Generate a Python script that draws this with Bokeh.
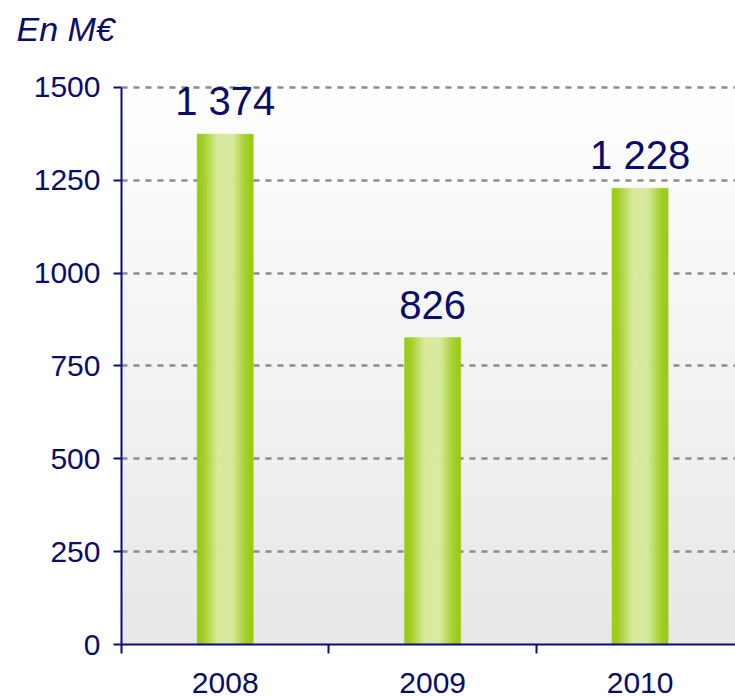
import numpy as np
from bokeh.plotting import figure
from bokeh.models import Range1d, FixedTicker, LabelSet, ColumnDataSource, Title
from bokeh.core.properties import value
from bokeh.embed import file_html
from bokeh.resources import INLINE

# ---- data ----
years = ["2008", "2009", "2010"]
amounts = [1374, 826, 1228]
y_ticks = [0, 250, 500, 750, 1000, 1250, 1500]
unit_title = "En M€"

NAVY = "#0a0a84"
TEXT = "#0b0b6e"
FONT = "Liberation Sans"

n = len(years)
centers = [i + 0.5 for i in range(n)]
bar_labels = [f"{v:,}".replace(",", " ") for v in amounts]

x_end = 2.96
y_end = 1505
p = figure(width=735, height=697, output_backend="svg", toolbar_location=None,
           x_range=Range1d(0, x_end), y_range=Range1d(0, y_end),
           min_border_left=121, min_border_right=0, min_border_top=85,
           min_border_bottom=53)
p.outline_line_color = None
p.background_fill_color = "white"
p.border_fill_color = "white"

# title stack: spacer next to the plot, title above it
spacer = Title(text=" ", text_font_size="10px", standoff=24, text_color="white")
p.add_layout(spacer, "above")
main_title = Title(text=unit_title, text_font=FONT, text_font_size="34px",
                   text_font_style="italic", text_color=TEXT, align="left",
                   offset=-105, standoff=2)
p.add_layout(main_title, "above")

# background vertical gradient (decoration)
rows = 128
g = np.linspace(232, 255, rows).astype(np.uint8)
img = np.zeros((rows, 1), dtype=np.uint32)
view = img.view(dtype=np.uint8).reshape((rows, 1, 4))
view[:, 0, 0] = g
view[:, 0, 1] = g
view[:, 0, 2] = g
view[:, 0, 3] = 255
p.image_rgba(image=[img], x=0, y=0, dw=x_end, dh=y_ticks[-1], level="image")

# grid
p.xgrid.grid_line_color = None
p.ygrid.ticker = FixedTicker(ticks=y_ticks)
p.ygrid.grid_line_color = "#8c8c8c"
p.ygrid.grid_line_dash = "6 6"
p.ygrid.grid_line_width = 2.5

# bars with horizontal gradient strips
bar_w = 0.27
N = 32
edge = np.array([152, 203, 18])
light = np.array([217, 234, 158])
for j in range(N):
    t = (j + 0.5) / N
    s = min(1.0, 1.15 * np.sin(np.pi * t) ** 2)
    c = edge + (light - edge) * s
    col = "#%02x%02x%02x" % tuple(int(round(v)) for v in c)
    off = -bar_w / 2 + bar_w * (j + 0.5) / N
    p.vbar(x=[cx + off for cx in centers], top=amounts, bottom=0,
           width=bar_w / N, fill_color=col, line_color=col, line_width=0.6)

# value labels
src = ColumnDataSource(dict(x=centers, y=amounts, t=bar_labels))
p.add_layout(LabelSet(x="x", y="y", text="t", source=src,
                      text_align="center", text_baseline="alphabetic",
                      y_offset=19, text_font=value(FONT),
                      text_font_size=value("40px"),
                      text_color=value(TEXT)))

# axes
xa = p.xaxis[0]
xa.ticker = FixedTicker(ticks=centers, minor_ticks=list(range(n + 1)))
xa.major_label_overrides = {c: y for c, y in zip(centers, years)}
xa.major_tick_line_color = None
xa.major_tick_out = 0
xa.major_tick_in = 0
xa.minor_tick_out = 9
xa.minor_tick_in = 0
xa.minor_tick_line_color = NAVY
xa.minor_tick_line_width = 2
xa.major_label_standoff = 19

ya = p.yaxis[0]
ya.ticker = FixedTicker(ticks=y_ticks)
ya.minor_tick_line_color = None
ya.major_tick_out = 8
ya.major_tick_in = 0
ya.major_tick_line_color = NAVY
ya.major_tick_line_width = 2
ya.major_label_standoff = 13
ya.bounds = (0, y_ticks[-1])

for ax in (xa, ya):
    ax.axis_line_color = NAVY
    ax.axis_line_width = 2
    ax.major_label_text_font = FONT
    ax.major_label_text_font_size = "30px"
    ax.major_label_text_color = TEXT

open("out.html", "w").write(file_html(p, INLINE))
